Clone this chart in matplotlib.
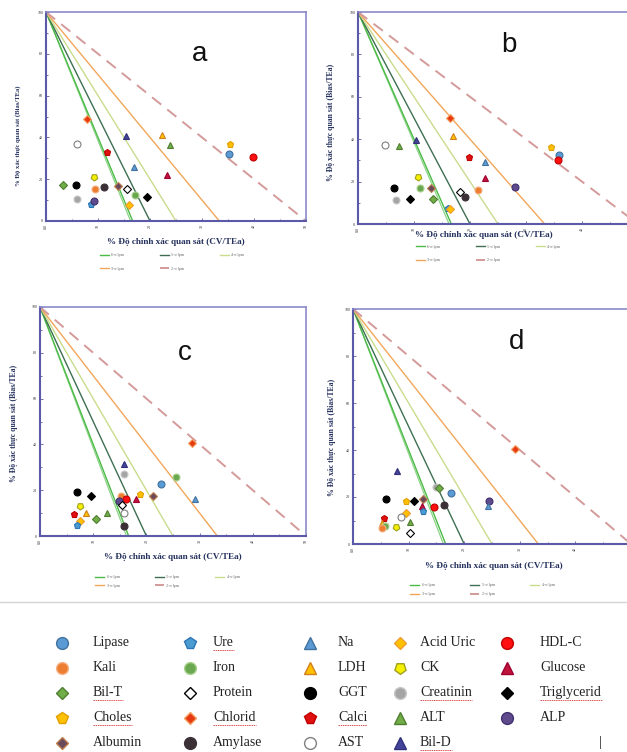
import numpy as np
import matplotlib
matplotlib.use("Agg")
import matplotlib.pyplot as plt
from matplotlib.lines import Line2D

plt.rcParams['font.family'] = ['Liberation Serif', 'DejaVu Serif']

W, H = 627, 752

# sigma lines (Bias + k*CV = 100)
sigma_levels = [6, 5, 4, 3, 2]
sigma_names = ['6-σ lpm', '5-σ lpm', '4-σ lpm', '3-σ lpm', '2-σ lpm']
extra_sigma = 6.15

# panel a
a_names = ['Chlorid', 'AST', 'Bil-D', 'LDH', 'ALT', 'Choles', 'Lipase', 'HDL-C',
           'Calci', 'Na', 'Glucose', 'Bil-T', 'GGT', 'CK', 'Kali', 'Amylase',
           'Albumin', 'Protein', 'Iron', 'Triglycerid', 'Creatinin', 'Ure', 'ALP', 'Acid Uric']
a_cv = [7.8, 6.0, 15.3, 22.4, 23.9, 35.4, 35.1, 39.9, 11.8, 16.9, 23.2, 3.2, 5.7, 9.2,
        9.5, 11.2, 13.9, 15.6, 17.2, 19.5, 6.0, 8.6, 9.3, 16.0]
a_bias = [48.8, 36.7, 40.5, 41.0, 36.5, 36.8, 32.2, 30.6, 33.0, 26.0, 22.0, 17.4, 17.4, 20.9,
          15.2, 16.1, 16.9, 15.3, 12.4, 11.3, 10.5, 8.1, 9.4, 7.8]

# panel b
b_names = ['Chlorid', 'LDH', 'AST', 'ALT', 'Bil-D', 'Calci', 'Na', 'Glucose', 'CK', 'GGT',
           'Iron', 'Albumin', 'Creatinin', 'Triglycerid', 'Bil-T', 'Protein', 'Amylase',
           'Kali', 'ALP', 'Ure', 'Acid Uric', 'Choles', 'Lipase', 'HDL-C']
b_cv = [16.4, 17.0, 4.9, 7.3, 10.4, 19.8, 22.7, 22.6, 10.7, 6.5, 11.1, 13.0, 6.7, 9.2,
        13.4, 18.2, 19.1, 21.5, 28.0, 16.0, 16.5, 34.4, 35.9, 35.8]
b_bias = [50.1, 41.5, 37.1, 36.8, 39.8, 31.8, 29.4, 21.8, 22.0, 17.1, 17.0, 17.0, 11.2, 11.8,
          12.0, 15.2, 12.9, 15.9, 17.5, 7.4, 7.0, 36.2, 32.5, 30.2]

# panel c
c_names = ['Chlorid', 'Bil-D', 'Creatinin', 'Iron', 'Lipase', 'Na', 'GGT', 'Triglycerid',
           'Kali', 'HDL-C', 'ALP', 'Glucose', 'Choles', 'Albumin', 'AST', 'Protein',
           'Amylase', 'CK', 'LDH', 'Calci', 'ALT', 'Bil-T', 'Acid Uric', 'Ure']
c_cv = [28.6, 15.7, 15.7, 25.5, 22.7, 29.1, 6.9, 9.5, 15.2, 16.1, 14.8, 18.0, 18.8, 21.3,
        15.7, 15.4, 15.7, 7.6, 8.6, 6.4, 12.5, 10.5, 7.5, 6.9]
c_bias = [40.8, 31.4, 27.1, 25.9, 22.6, 16.2, 19.3, 17.5, 17.5, 16.2, 15.4, 16.2, 18.2, 17.5,
          9.9, 13.5, 4.5, 13.1, 10.2, 9.6, 10.2, 7.3, 6.7, 4.8]

# panel d
d_names = ['Chlorid', 'Bil-D', 'Creatinin', 'Bil-T', 'Lipase', 'GGT', 'Choles', 'Triglycerid',
           'Albumin', 'Glucose', 'Ure', 'HDL-C', 'Amylase', 'ALP', 'Na', 'Acid Uric', 'AST',
           'ALT', 'Calci', 'LDH', 'Iron', 'Kali', 'CK', 'Protein']
d_cv = [29.2, 7.9, 14.9, 15.5, 17.6, 5.9, 9.5, 10.9, 12.6, 12.4, 12.5, 14.5, 16.3, 24.4,
        24.3, 9.5, 8.6, 10.3, 5.6, 5.2, 5.7, 5.3, 7.7, 10.3]
d_bias = [40.3, 31.1, 24.4, 23.7, 21.6, 19.0, 18.3, 18.4, 19.0, 16.2, 14.0, 15.9, 16.5, 18.4,
          16.2, 13.3, 11.4, 9.5, 10.9, 9.1, 7.7, 6.7, 7.4, 4.6]

# legend columns (bottom key)
key_cols = [['Lipase', 'Kali', 'Bil-T', 'Choles', 'Albumin'],
            ['Ure', 'Iron', 'Protein', 'Chlorid', 'Amylase'],
            ['Na', 'LDH', 'GGT', 'Calci', 'AST'],
            ['Acid Uric', 'CK', 'Creatinin', 'ALT', 'Bil-D'],
            ['HDL-C', 'Glucose', 'Triglycerid', 'ALP']]
underlined = ['Ure', 'Bil-T', 'Choles', 'Chlorid', 'Calci', 'Creatinin', 'Triglycerid', 'Bil-D']

# marker, face, edge
style = {
    'Lipase': ('o', '#5b9bd5', '#41719c'),
    'Kali': ('o', '#ed7d31', '#f4b183'),
    'Bil-T': ('D', '#70ad47', '#507e32'),
    'Choles': ('p', '#ffc000', '#e0a000'),
    'Albumin': ('D', '#6a4a5a', '#c08050'),
    'Ure': ('p', '#4a9bd0', '#2e75b6'),
    'Iron': ('o', '#6aa84f', '#a9d18e'),
    'Protein': ('D', 'white', 'black'),
    'Chlorid': ('D', '#e83a10', '#f4a060'),
    'Amylase': ('o', '#3a3035', '#3a3035'),
    'Na': ('^', '#5b9bd5', '#41719c'),
    'LDH': ('^', '#ffc000', '#d08020'),
    'GGT': ('o', 'black', 'black'),
    'Calci': ('p', '#e01010', '#c00000'),
    'AST': ('o', 'white', '#808080'),
    'Acid Uric': ('D', '#ffc000', '#ed9d31'),
    'CK': ((5, 0, 180), '#f5f000', '#a0a020'),
    'Creatinin': ('o', '#a5a5a5', '#c8c8c8'),
    'ALT': ('^', '#70ad47', '#507e32'),
    'Bil-D': ('^', '#44449a', '#30307a'),
    'HDL-C': ('o', '#ff1010', '#c00000'),
    'Glucose': ('^', '#c0143c', '#a00030'),
    'Triglycerid': ('D', 'black', 'black'),
    'ALP': ('o', '#5f4b8b', '#403070'),
}
size_scale = {'D': 0.75, 'p': 1.0, '^': 1.0, 'o': 1.0}

sig_colors = ['#4cbb47', '#3f6f52', '#c9dc8c', '#f2a65a', '#d49a9a']
sig_ls = ['-', '-', '-', '-', (0, (6, 4))]
spine_col = '#5a5aa8'

fig = plt.figure(figsize=(W / 100, H / 100), dpi=100)


def px_axes(left, right, top, bottom):
    return fig.add_axes([left / W, 1 - bottom / H, (right - left) / W, (bottom - top) / H])


def msize(m, base):
    return base * size_scale.get(m, 1.0) if isinstance(m, str) else base


panels = [
    dict(box=(46, 306, 12, 221), names=a_names, cv=a_cv, bias=a_bias, letter='a',
         lpos=(0.59, 0.80), xlab=(0.5, -0.08), ylab=(-0.095, 0.41), yfs=4.8,
         leg=(0.2, -0.145), legsp=2.3, cropped=False),
    dict(box=(358, 638, 12, 224), names=b_names, cv=b_cv, bias=b_bias, letter='b',
         lpos=(0.54, 0.845), xlab=(0.45, -0.035), ylab=(-0.082, 0.48), yfs=5.6,
         leg=(0.2, -0.09), legsp=2.3, cropped=True),
    dict(box=(40, 306, 307, 536), names=c_names, cv=c_cv, bias=c_bias, letter='c',
         lpos=(0.545, 0.80), xlab=(0.5, -0.075), ylab=(-0.083, 0.49), yfs=5.6,
         leg=(0.2, -0.165), legsp=1.0, cropped=False),
    dict(box=(353, 631, 309, 544), names=d_names, cv=d_cv, bias=d_bias, letter='d',
         lpos=(0.59, 0.86), xlab=(0.507, -0.075), ylab=(-0.061, 0.455), yfs=5.6,
         leg=(0.2, -0.16), legsp=1.2, cropped=True),
]

for p in panels:
    ax = px_axes(*p['box'])
    ax.set_xlim(0, 50)
    ax.set_ylim(0, 100)
    # extra 6-sigma line
    ax.plot([0, 100 / extra_sigma], [100, 0], color='#8fd48a', lw=0.9, zorder=1)
    handles = []
    for k, nm, col, ls in zip(sigma_levels, sigma_names, sig_colors, sig_ls):
        h, = ax.plot([0, 100 / k], [100, 0], color=col, lw=1.0 if k != 2 else 1.4,
                     ls=ls, label=nm, zorder=1)
        handles.append(h)
    for nm, x, y in zip(p['names'], p['cv'], p['bias']):
        m, fc, ec = style[nm]
        ax.plot(x, y, marker=m, ms=msize(m, 5), mfc=fc, mec=ec, mew=0.8, ls='none', zorder=3)
    ax.text(*p['lpos'], p['letter'], transform=ax.transAxes, fontsize=20,
            family='Liberation Sans', ha='center', va='center', color='#111111')
    if p['cropped']:
        ax.set_xticks([0, 10, 20, 30, 40])
        ax.set_xticklabels(['0.0', '10', '20', '30', '40'], rotation=90)
    else:
        ax.set_xticks([0, 10, 20, 30, 40, 50])
        ax.set_xticklabels(['0.0', '10', '20', '30', '40', '50'], rotation=90)
    ax.set_xticks([5, 15, 25, 35, 45], minor=True)
    ax.set_yticks([0, 20, 40, 60, 80, 100])
    ax.set_yticks([10, 30, 50, 70, 90], minor=True)
    ax.tick_params(which='both', direction='in', color=spine_col, labelsize=3,
                   labelcolor='#333333', length=2, width=0.6, pad=2)
    ax.tick_params(which='minor', length=1.5)
    for s in ['left', 'bottom']:
        ax.spines[s].set_color(spine_col)
        ax.spines[s].set_linewidth(1.5)
    for s in ['top', 'right']:
        ax.spines[s].set_color('#8a8ac8')
        ax.spines[s].set_linewidth(1.2)
    ax.set_xlabel('% Độ chính xác quan sát (CV/TEa)', fontsize=6.6, fontweight='bold',
                  color='#26325e')
    ax.xaxis.set_label_coords(*p['xlab'])
    ax.set_ylabel('% Độ xác thực quan sát (Bias/TEa)', fontsize=p['yfs'], fontweight='bold',
                  color='#26325e')
    ax.yaxis.set_label_coords(*p['ylab'])
    order = [0, 3, 1, 4, 2]
    ax.legend([handles[i] for i in order], [sigma_names[i] for i in order], ncol=3,
              loc='upper left', bbox_to_anchor=p['leg'], frameon=False, fontsize=3,
              handlelength=2.2, handletextpad=0.6, columnspacing=8.5,
              labelspacing=p['legsp'], labelcolor='#666666', borderaxespad=0)

# separator line
fig.add_artist(Line2D([0, 1], [1 - 602 / H, 1 - 602 / H], color='#d4d4d4', lw=1))

# bottom key
kax = fig.add_axes([0, 0, 1, 1 - 602 / H])
kax.set_xlim(0, W)
kax.set_ylim(H, 602)
kax.axis('off')
marker_x = [62, 190, 310, 400, 507]
text_x = [93, 213, 338, 420, 540]
row_y = [643, 668, 693, 718, 743]
texts = []
for col, mx, tx in zip(key_cols, marker_x, text_x):
    for nm, ry in zip(col, row_y):
        m, fc, ec = style[nm]
        kax.plot(mx, ry, marker=m, ms=msize(m, 8.5), mfc=fc, mec=ec, mew=1.0, ls='none')
        t = kax.text(tx, ry, nm, fontsize=10, ha='left', va='center', color='#222222')
        texts.append((nm, t))
kax.text(600, 743, '|', fontsize=10, ha='center', va='center', color='#222222')

fig.canvas.draw()
inv = kax.transData.inverted()
for nm, t in texts:
    if nm in underlined:
        bb = t.get_window_extent()
        (x0, y0), (x1, y1) = inv.transform([(bb.x0, bb.y0), (bb.x1, bb.y0)])
        kax.plot([x0, x1], [y0 + 1, y1 + 1], color='#e05050', lw=0.7, ls=(0, (1.5, 0.8)))

fig.savefig('out.png', dpi=100)
